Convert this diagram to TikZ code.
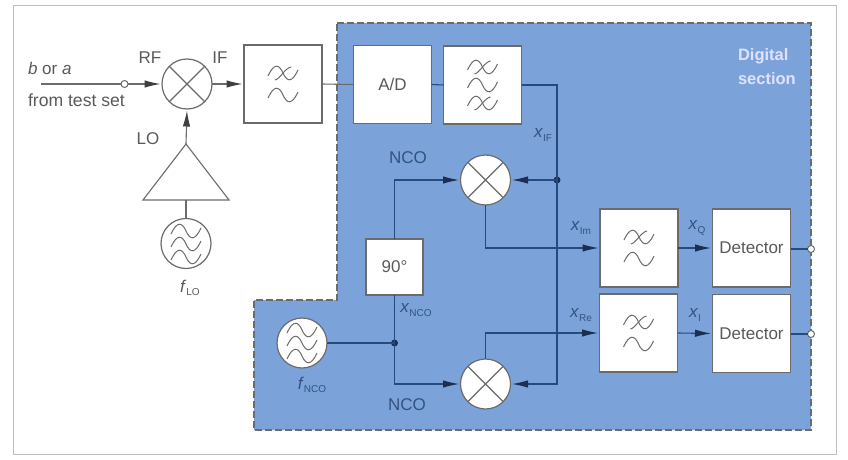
\documentclass[tikz,border=0pt]{standalone}
\usepackage{fontspec}
\setmainfont{Liberation Sans}
\usetikzlibrary{arrows.meta}
\definecolor{bluefill}{HTML}{7BA3DA}
\definecolor{bluetext}{HTML}{34527F}
\definecolor{blueline}{HTML}{254A7E}
\definecolor{greyline}{HTML}{6B6B6B}
\definecolor{greytext}{HTML}{5A5A5A}
\definecolor{tipdark}{HTML}{1C2F52}
\definecolor{tipgrey}{HTML}{404040}
\newcommand{\xsublab}[2]{\textit{#1}\raisebox{-3.5pt}{\fontsize{10}{10}\selectfont #2}}
\tikzset{
  x=1pt,y=-1pt,
  every node/.style={font=\fontsize{17}{20}\selectfont,inner sep=0pt,outer sep=0pt,text=greytext},
  tip/.style={-{Latex[length=16pt,width=7.5pt,color=#1]},shorten >=1.5pt},
  tip/.default=tipdark,
  outer/.style={draw=greyline,line width=1.1pt},
  inner/.style={draw=blueline,line width=1.1pt},
  blockbox/.style={rectangle,draw=greyline,line width=1.2pt,fill=white,minimum width=78pt,minimum height=78pt,align=center},
  mixer/.style={circle,draw=greyline,line width=1.2pt,fill=white,minimum size=50pt,
    path picture={\draw[greyline,line width=1.1pt]
      (path picture bounding box.north west)--(path picture bounding box.south east)
      (path picture bounding box.north east)--(path picture bounding box.south west);}},
  osc/.style={circle,draw=greyline,line width=1.2pt,fill=white,minimum size=50pt},
  port/.style={circle,draw=greyline,line width=1pt,fill=white,minimum size=7pt},
  junction/.style={circle,fill=tipdark,minimum size=7pt},
  blab/.style={text=bluetext},
  amp/.style={draw=greyline,line width=1.1pt,fill=white},
  pics/wave/.style={code={\draw[greyline,line width=1pt] (-15,3) .. controls (-9,-10) and (-4,-9) .. (0,0) .. controls (4,9) and (9,10) .. (15,-3);}},
  pics/xwave/.style={code={\draw[greyline,line width=1pt] (-15,3) .. controls (-9,-10) and (-4,-9) .. (0,0) .. controls (4,9) and (9,10) .. (15,-3);
     \draw[greyline,line width=1pt] (-8,7) .. controls (-3,6) and (2,-5) .. (8,-6);}},
}
\begin{document}
\begin{tikzpicture}
\useasboundingbox (0,0) rectangle (848,460);
\fill[white] (0,0) rectangle (848,460);
\draw[black!25,line width=1pt] (13,6) rectangle (836,454);
\draw[fill=bluefill,draw=greyline,line width=1.2pt,dash pattern=on 7pt off 3pt]
  (337,23) -- (811,23) -- (811,430) -- (254,430) -- (254,300) -- (337,300) -- cycle;

% input part
\coordinate (in) at (41,84);
\node[port] (pin) at (124.5,84) {};
\node[mixer] (mix1) at (187,84) {};
\node[blockbox] (lpf1) at (283,84) {};
\coordinate (ampTop) at (186,144);
\coordinate (ampL) at (143,200);
\coordinate (ampR) at (229,200);
\coordinate (ampB) at (186,200);
\draw[amp] (ampTop) -- (ampR) -- (ampL) -- cycle;
\node[osc] (osc1) at (186,243.5) {};

% digital blocks
\node[blockbox] (ad) at (392.5,84.5) {A/D};
\node[blockbox] (bpf) at (482.5,85) {};
\node[mixer] (mixu) at (485.5,180) {};
\node[mixer] (mixl) at (485.5,384) {};
\node[blockbox,minimum width=57pt,minimum height=56pt] (ph) at (394.5,267) {90°};
\node[osc] (osc2) at (302,343) {};
\node[junction] (jn) at (394.5,343) {};
\node[junction] (ji) at (557,180) {};
\node[blockbox] (lpfu) at (639,248) {};
\node[blockbox] (lpfl) at (638.5,333) {};
\node[blockbox] (detu) at (751.5,248) {Detector};
\node[blockbox] (detl) at (751.5,333.5) {Detector};
\node[port] (outu) at (811,249) {};
\node[port] (outl) at (811,334) {};

% outer connectors
\draw[outer] (in) -- (pin);
\draw[outer,tip=tipgrey] (pin) -- (mix1.west);
\draw[outer,tip=tipgrey] (mix1.east) -- (lpf1.west);
\draw[outer,tip=tipgrey] (ampTop) -- (mix1.south);
\draw[outer] (ampB) -- (osc1.north);
\draw[outer] (lpf1.east) -- (ad.west);

% digital connectors
\draw[inner] (ad.east) -- (bpf.west);
\draw[inner] (bpf.east) -| (ji.center);
\draw[inner,tip] (ji.center) |- (mixl.east);
\draw[inner,tip] (ji.center) -- (mixu.east);
\draw[inner,tip] (ph.north) |- (mixu.west);
\draw[inner] (ph.south) -- (jn.center);
\draw[inner] (osc2.east) -- (jn.center);
\draw[inner,tip] (jn.center) |- (mixl.west);
\draw[inner,tip] (mixu.south) |- (lpfu.west);
\draw[inner,tip] (mixl.north) |- (lpfl.west);
\draw[inner,tip] (lpfu.east) -- (detu.west);
\draw[inner,tip] (lpfl.east) -- (detl.west);
\draw[inner] (detu.east |- outu) -- (outu);
\draw[inner] (detl.east |- outl) -- (outl);

% filter and oscillator symbols
\pic at (283,73) {xwave}; \pic at (283,95) {wave};
\pic at (482.5,67) {xwave}; \pic at (482.5,85) {wave}; \pic at (482.5,103) {xwave};
\pic at (639,237) {xwave}; \pic at (639,259) {wave};
\pic at (638.5,322) {xwave}; \pic at (638.5,344) {wave};
\pic at (186,231) {wave}; \pic at (186,244) {wave}; \pic at (186,257) {wave};
\pic at (302,330) {wave}; \pic at (302,343) {wave}; \pic at (302,356) {wave};

% labels
\node[anchor=west] (lb) at (28,68) {\textit{b} or \textit{a}};
\node[anchor=west,font=\fontsize{17.6}{20}\selectfont] (lf) at (28,100) {from test set};
\node (lrf) at (150,58) {RF};
\node (lif) at (220,58) {IF};
\node (llo) at (148,139) {LO};
\node (lflo) at (190,288) {\xsublab{f}{LO}};
\node[anchor=west,align=left,text=white!88!blue,font=\fontsize{16.5}{24}\selectfont\bfseries] (ldig) at (738,67) {Digital\\section};
\node[blab] (lnu) at (408,158) {NCO};
\node[blab] (lnl) at (407,405) {NCO};
\node[blab] (lxif) at (543,135) {\xsublab{x}{IF}};
\node[blab] (lxn) at (416,310) {\xsublab{x}{NCO}};
\node[blab] (lfn) at (312,385) {\xsublab{f}{NCO}};
\node[blab] (lxim) at (581,228) {\xsublab{x}{Im}};
\node[blab] (lxre) at (581,315) {\xsublab{x}{Re}};
\node[blab] (lxq) at (697,228) {\xsublab{x}{Q}};
\node[blab] (lxi) at (695,315) {\xsublab{x}{I}};
\end{tikzpicture}
\end{document}
